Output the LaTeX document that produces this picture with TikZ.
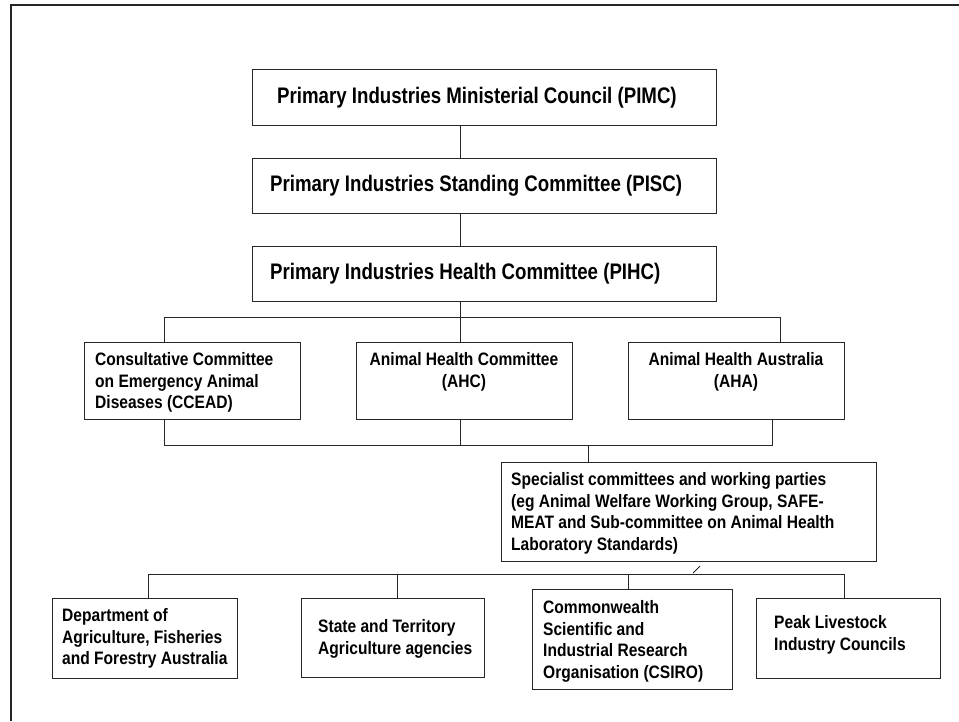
\documentclass[tikz,border=0pt]{standalone}
\usepackage{fontspec}
\setmainfont{Liberation Sans}
\newfontfamily\bigf[FakeStretch=0.83]{Liberation Sans}
\newfontfamily\smallf[FakeStretch=0.865]{Liberation Sans}
\begin{document}
\begin{tikzpicture}[x=1pt,y=-1pt,
  box/.style={draw=black!85, line width=0.9pt, inner sep=0pt, outer sep=0pt},
  conn/.style={draw=black!85, line width=0.9pt},
  frame/.style={draw=black!85, line width=2pt},
  big/.style={inner sep=0pt, anchor=base west, font=\bigf\fontsize{22.5}{26}\selectfont\bfseries},
  small/.style={inner sep=0pt, anchor=north west, align=left, font=\smallf\fontsize{18}{21.5}\selectfont\bfseries},
  smallc/.style={inner sep=0pt, anchor=north, align=center, font=\smallf\fontsize{18}{21.5}\selectfont\bfseries}]
\useasboundingbox (0,0) rectangle (959,721);
% outer frame
\coordinate (fbl) at (11,721);
\coordinate (ftl) at (11,4.5);
\coordinate (ftr) at (959,4.5);
\draw[frame] (fbl) -- (ftl) -- (ftr);
% boxes
\node[box, minimum width=464pt, minimum height=56pt] (pimc) at (484,97) {};
\node[box, minimum width=464pt, minimum height=55pt] (pisc) at (484,185.5) {};
\node[box, minimum width=464pt, minimum height=55pt] (pihc) at (484,273.5) {};
\node[box, minimum width=216pt, minimum height=77pt] (ccead) at (192,380.5) {};
\node[box, minimum width=216pt, minimum height=77pt] (ahc) at (464,380.5) {};
\node[box, minimum width=216pt, minimum height=77pt] (aha) at (736,380.5) {};
\node[box, minimum width=375pt, minimum height=99pt] (spec) at (688.5,511.5) {};
\node[box, minimum width=185pt, minimum height=80pt] (dept) at (144.5,638) {};
\node[box, minimum width=183pt, minimum height=79pt] (state) at (392.5,637.5) {};
\node[box, minimum width=200pt, minimum height=100pt] (csiro) at (632,639) {};
\node[box, minimum width=184pt, minimum height=80pt] (peak) at (848,638) {};
% texts
\node[big] (tpimc) at (277,103) {Primary Industries Ministerial Council (PIMC)};
\node[big] (tpisc) at (270,191) {Primary Industries Standing Committee (PISC)};
\node[big] (tpihc) at (270,279) {Primary Industries Health Committee (PIHC)};
\node[small] (tccead) at (95,350.3) {\strut Consultative Committee\\on Emergency Animal\\Diseases (CCEAD)};
\node[smallc] (tahc) at (464,350.3) {\strut Animal Health Committee\\(AHC)};
\node[smallc] (taha) at (736,350.3) {\strut Animal Health Australia\\(AHA)};
\node[small] (tspec) at (511,470.3) {\strut Specialist committees and working parties\\(eg Animal Welfare Working Group, SAFE-\\MEAT and Sub-committee on Animal Health\\Laboratory Standards)};
\node[small] (tdept) at (62,606.3) {\strut Department of\\Agriculture, Fisheries\\and Forestry Australia};
\node[small] (tstate) at (318,617.3) {\strut State and Territory\\Agriculture agencies};
\node[small] (tcsiro) at (543,598.3) {\strut Commonwealth\\Scientific and\\Industrial Research\\Organisation (CSIRO)};
\node[small] (tpeak) at (774,613.3) {\strut Peak Livestock\\Industry Councils};
% connectors
\coordinate (spine) at (460,317);
\draw[conn] (pimc.south -| spine) -- (pisc.north -| spine);
\draw[conn] (pisc.south -| spine) -- (pihc.north -| spine);
\draw[conn] (pihc.south -| spine) -- (ahc.north -| spine);
\coordinate (busL) at (164,317);
\coordinate (busR) at (780,317);
\draw[conn] (ccead.north -| busL) -- (busL) -- (busR) -- (aha.north -| busR);
\coordinate (lbL) at (164,445);
\coordinate (lbR) at (772,445);
\coordinate (lbM) at (588,445);
\draw[conn] (ccead.south -| lbL) -- (lbL) -- (lbR) -- (aha.south -| lbR);
\draw[conn] (ahc.south -| spine) -- (lbL -| spine);
\draw[conn] (lbM) -- (spec.north -| lbM);
\coordinate (bbL) at (148,574);
\coordinate (bbR) at (844,574);
\coordinate (bbS) at (397,574);
\coordinate (bbC) at (628,574);
\draw[conn] (dept.north -| bbL) -- (bbL) -- (bbR) -- (peak.north -| bbR);
\draw[conn] (bbS) -- (state.north -| bbS);
\draw[conn] (bbC) -- (csiro.north -| bbC);
\coordinate (stubA) at (693,573);
\coordinate (stubB) at (700,566);
\draw[line width=0.7pt] (stubA) -- (stubB);
\end{tikzpicture}
\end{document}
